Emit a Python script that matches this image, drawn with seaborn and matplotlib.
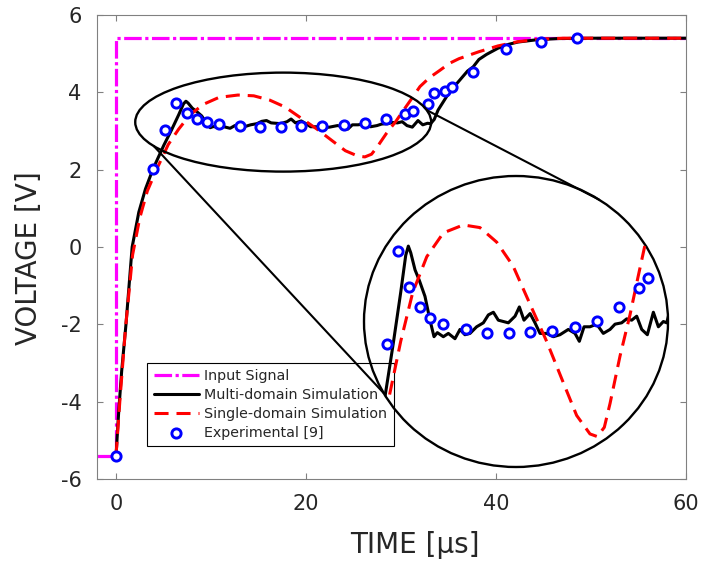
import numpy as np
import pandas as pd
import seaborn as sns
import matplotlib
matplotlib.use("Agg")
import matplotlib.pyplot as plt
from matplotlib.patches import Ellipse, ConnectionPatch

# input step signal
t_input = [-2.0, 0.0, 0.0, 60.0]
v_input = [-5.4, -5.4, 5.4, 5.4]

# multi-domain simulation (incl. the inset noise)
t_multi = [0.0, 0.3, 0.6, 1.05, 1.7, 2.4, 3.1, 3.9, 5.03, 5.85, 6.6, 7.1, 7.36, 7.6,
           8.03, 8.46, 9.02, 9.52, 9.92, 10.25, 10.85, 11.35, 12.01, 12.51, 13.0,
           13.51, 14.17, 14.84, 15.34, 15.84, 16.33, 16.83, 17.33, 18.0, 18.43,
           18.89, 19.5, 19.99, 20.49, 21.15, 21.82, 22.48, 23.31, 23.98, 24.41,
           24.88, 25.47, 26.14, 26.8, 27.47, 27.97, 28.63, 29.13, 29.63, 30.13,
           30.63, 31.19, 31.79, 32.29, 32.79, 33.12, 33.5, 33.9, 34.8, 35.5, 36.2,
           37.0, 37.6, 38.2, 39.0, 40.2, 41.3, 42.3, 44.3, 46.5, 50.0, 60.0]
v_multi = [-5.4, -4.2, -3.2, -2.0, 0.0, 0.9, 1.5, 2.02, 2.63, 3.03, 3.42, 3.7, 3.77, 3.72,
           3.59, 3.51, 3.39, 3.21, 3.085, 3.116, 3.085, 3.11, 3.07, 3.14, 3.10,
           3.11, 3.16, 3.19, 3.25, 3.27, 3.21, 3.20, 3.19, 3.24, 3.31,
           3.21, 3.26, 3.19, 3.11, 3.11, 3.085, 3.10, 3.14, 3.11, 3.05,
           3.16, 3.16, 3.18, 3.11, 3.14, 3.18, 3.19, 3.22, 3.21, 3.24,
           3.14, 3.10, 3.27, 3.16, 3.20, 3.19, 3.30, 3.54, 3.89, 4.12, 4.32,
           4.55, 4.66, 4.85, 4.98, 5.14, 5.24, 5.30, 5.36, 5.39, 5.40, 5.40]

# single-domain simulation
t_single = [0.0, 0.4, 1.0, 1.75, 2.5, 3.3, 4.3, 5.5, 6.6, 7.8, 9.2, 10.85, 12.84, 14.5,
            16.17, 17.8, 19.5, 21.15, 22.8, 24.14, 25.47, 26.2, 26.9, 27.47, 28.47,
            29.46, 30.3, 30.96, 32.0, 33.0, 34.1, 35.1, 36.1, 38.2, 40.2, 42.3, 44.5,
            47.0, 60.0]
v_single = [-5.4, -4.0, -2.1, -0.2, 0.75, 1.45, 2.02, 2.65, 3.05, 3.42, 3.69, 3.87, 3.93, 3.91,
            3.80, 3.62, 3.33, 3.05, 2.74, 2.49, 2.35, 2.33, 2.40, 2.58, 2.94,
            3.25, 3.55, 3.78, 4.15, 4.38, 4.57, 4.75, 4.87, 5.05, 5.20, 5.31, 5.37,
            5.40, 5.40]

# experimental points [9]
t_exp = [0.0, 3.9, 5.2, 6.3, 7.45, 8.5, 9.55, 10.8, 13.1, 15.2, 17.4, 19.45, 21.7,
         23.95, 26.2, 28.4, 30.4, 31.25, 32.8, 33.45, 34.6, 35.4, 37.6, 41.1, 44.7, 48.5]
v_exp = [-5.4, 2.02, 3.03, 3.73, 3.46, 3.31, 3.23, 3.18, 3.14, 3.11, 3.11, 3.12, 3.13,
         3.16, 3.20, 3.31, 3.45, 3.53, 3.69, 3.98, 4.03, 4.15, 4.52, 5.12, 5.31, 5.40]

x_ticks = [0, 20, 40, 60]
y_ticks = [-6, -4, -2, 0, 2, 4, 6]

sns.set_theme(style="ticks")
plt.rcParams["font.family"] = ["DejaVu Sans"]
plt.rcParams["axes.unicode_minus"] = False

TXT = "#262626"
GREY = "#808080"


def draw_curves(ax, with_labels):
    lab = (lambda s: s) if with_labels else (lambda s: None)
    sns.lineplot(x=t_input, y=v_input, color="#ff00ff", lw=2.3, sort=False,
                 estimator=None, ax=ax, label=lab("Input Signal"), legend=with_labels)
    ax.lines[-1].set_dashes([5.5, 1.1, 1.0, 1.1])
    sns.lineplot(x=t_multi, y=v_multi, color="black", lw=2.2, sort=False,
                 estimator=None, ax=ax, label=lab("Multi-domain Simulation"), legend=with_labels)
    sns.lineplot(x=t_single, y=v_single, color="red", lw=2.2, sort=False,
                 estimator=None, ax=ax, label=lab("Single-domain Simulation"), legend=with_labels)
    ax.lines[-1].set_dashes([4.6, 2.6])
    sns.scatterplot(x=t_exp, y=v_exp, marker="o", s=44, facecolor="white",
                    edgecolor="blue", linewidth=2.1, ax=ax, zorder=5,
                    label=lab("Experimental [9]"), legend=with_labels)


fig = plt.figure(figsize=(7.03, 5.68), dpi=100)
ax = fig.add_axes([97 / 703, 89 / 568, 589 / 703, 464 / 568])
draw_curves(ax, True)

ax.set_xlim(-2, 60)
ax.set_ylim(-6, 6)
ax.set_xticks(x_ticks)
ax.set_yticks(y_ticks)
ax.tick_params(direction="in", length=4.5, width=0.8, color=GREY, labelsize=15,
               labelcolor=TXT, pad=11, top=True, right=True)
for sp in ax.spines.values():
    sp.set_visible(True)
    sp.set_color(GREY)
    sp.set_linewidth(0.8)
ax.set_xlabel("TIME [μs]", fontsize=20, color=TXT)
ax.set_ylabel("VOLTAGE [V]", fontsize=20, color=TXT)
ax.xaxis.set_label_coords(0.54, -0.112)
ax.yaxis.set_label_coords(-0.092, 0.477)

leg = ax.legend(loc="lower left", bbox_to_anchor=(0.085, 0.071), borderaxespad=0,
                fontsize=10.3, handlelength=3.2, handletextpad=0.35, labelspacing=0.33,
                borderpad=0.45, fancybox=False, framealpha=1, edgecolor="black")
leg.get_frame().set_linewidth(0.8)
for txt in leg.get_texts():
    txt.set_color(TXT)

# zoom ellipse on the main axes
ell_c, ell_w, ell_h = (17.6, 3.23), 31.15, 2.56
ax.add_patch(Ellipse(ell_c, ell_w, ell_h, fill=False, ec="black", lw=1.7, zorder=6))

# magnified inset in a circle
ax_in = fig.add_axes([364 / 703, 101 / 568, 304 / 703, 291 / 568])
draw_curves(ax_in, False)
ax_in.set_xlim(2.94, 33.25)
ax_in.set_ylim(2.10, 4.30)
ax_in.axis("off")
circ = Ellipse((0.5, 0.5), 1, 1, transform=ax_in.transAxes, fill=False,
               ec="black", lw=1.7, clip_on=False)
ax_in.add_patch(circ)
for art in ax_in.lines + list(ax_in.collections):
    art.set_clip_path(circ)

# connector lines between ellipse and circle
for th, ph in [(209.0, 209.5), (14.0, 56.8)]:
    a, b = np.radians(th), np.radians(ph)
    pa = (ell_c[0] + ell_w / 2 * np.cos(a), ell_c[1] + ell_h / 2 * np.sin(a))
    pb = (0.5 + 0.5 * np.cos(b), 0.5 + 0.5 * np.sin(b))
    con = ConnectionPatch(xyA=pa, coordsA="data", axesA=ax,
                          xyB=pb, coordsB="axes fraction", axesB=ax_in,
                          color="black", lw=1.5)
    fig.add_artist(con)

fig.savefig("out.png", dpi=100)
